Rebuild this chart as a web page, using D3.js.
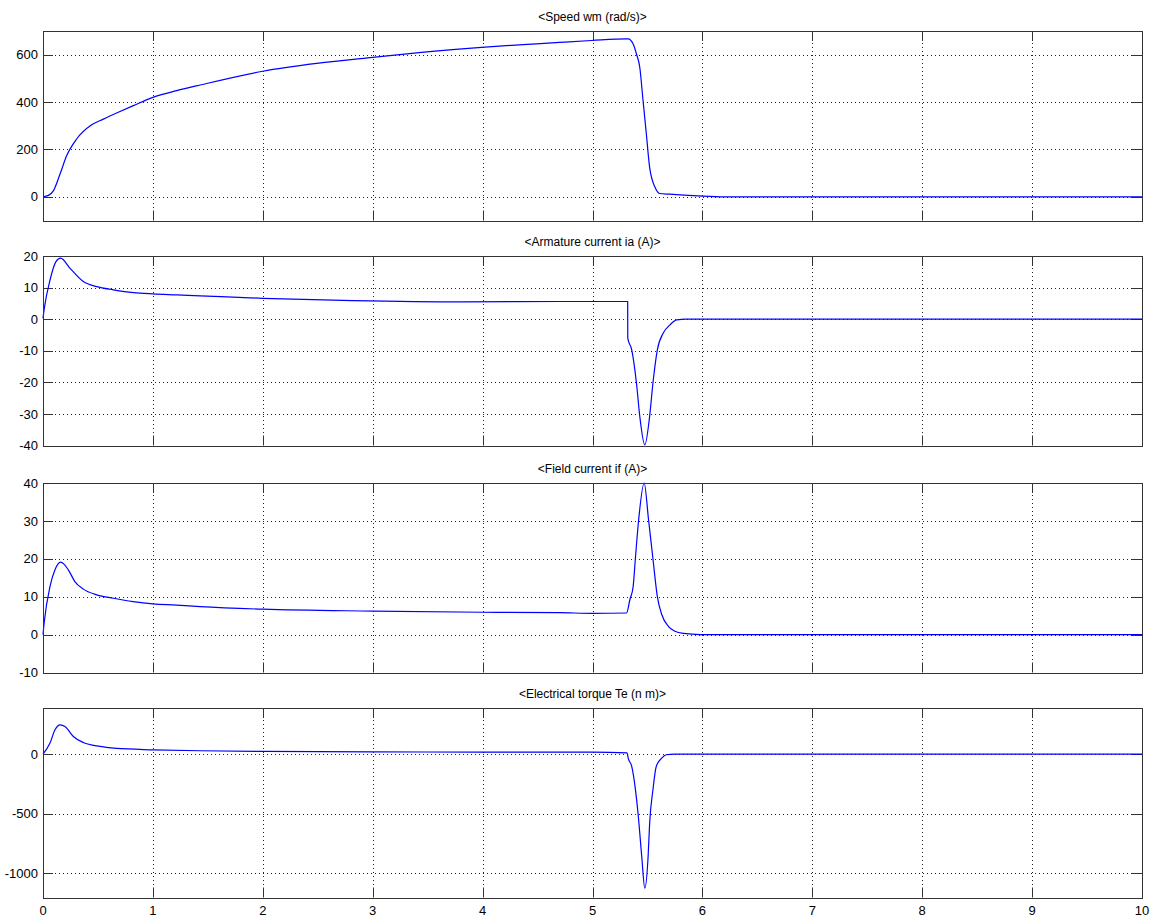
<!DOCTYPE html>
<html><head><meta charset="utf-8">
<script src="https://cdn.jsdelivr.net/npm/d3@7"></script>
<style>
html,body{margin:0;padding:0;background:#fff;}
svg{display:block;}
text{font-family:"Liberation Sans",Arial,sans-serif;fill:#000;}
</style></head>
<body>
<svg id="chart" width="1155" height="918"></svg>
<script>
// ---- data ----
const xTicks = [0,1,2,3,4,5,6,7,8,9,10];

const titles = ["<Speed wm (rad/s)>", "<Armature current ia (A)>", "<Field current if (A)>", "<Electrical torque Te (n m)>"];

const tSpeed = [0,0.05,0.094,0.155,0.215,0.306,0.443,0.549,0.685,0.822,1.0,1.216,1.43,2.0,2.49,3.0,3.49,3.99,4.49,4.7,4.99,5.31,5.325,5.37,5.40,5.43,5.46,5.49,5.52,5.57,5.61,5.70,5.96,6.2,10];
const speed  = [0,6,25,96,173,244,304,328,357,385,420,448,472,530,563,589,612,631,646,652,660,667,667,645,603,547,406,265,124,39,14,11,4,0,0];

const tArm = [0,0.01,0.064,0.118,0.161,0.246,0.367,0.489,0.64,0.822,1.0,1.216,1.43,2.0,2.82,3.82,4.7,5.32,5.321,5.357,5.40,5.43,5.476,5.52,5.55,5.59,5.644,5.705,5.766,5.85,10];
const armCurrent = [0.3,3,12.4,18.2,19.3,16.1,11.9,10.3,9.3,8.4,8.0,7.7,7.4,6.6,5.9,5.5,5.6,5.6,-6,-9.7,-20.2,-30.7,-39.8,-30.7,-20.2,-9.7,-4.4,-1.8,-0.2,0,0];

const tField = [0,0.01,0.064,0.109,0.161,0.23,0.29,0.367,0.49,0.64,0.82,1.0,1.216,1.43,2.0,3.0,4.0,4.7,5.0,5.31,5.34,5.37,5.39,5.42,5.47,5.51,5.55,5.59,5.63,5.69,5.75,5.83,5.98,10];
const fieldCurrent = [0,3,12.7,17.1,19.1,17.1,14.0,12.0,10.5,9.6,8.7,8.1,7.8,7.4,6.7,6.2,5.9,5.8,5.6,5.7,9.2,12.7,20,30.3,40,30.3,20,10,5.3,2.2,0.9,0.3,0,0];

const tTorque = [0,0.064,0.109,0.155,0.2,0.276,0.367,0.52,0.67,1.0,1.43,2.0,3.0,4.0,5.0,5.315,5.325,5.357,5.387,5.417,5.448,5.476,5.506,5.52,5.55,5.58,5.63,5.67,5.75,10];
const torque = [0,92,204,246,232,148,97,64,47,36,28,22,18,17,17,10,-34,-104,-272,-524,-860,-1126,-860,-580,-300,-104,-34,-6,0,0];

const yDomains = [[-100,700],[-40,20],[-10,40],[-1205,387]];
const yTicks = [[0,200,400,600],[-40,-30,-20,-10,0,10,20],[-10,0,10,20,30,40],[-1000,-500,0]];

// ---- layout ----
const svg = d3.select("#chart");
const left = 43, right = 1142;
const tops = [31, 256, 483, 708];
const ph = 189.5;
const tickLen = 10;
const x = d3.scaleLinear().domain([0,10]).range([left, right]);

const seriesT = [tSpeed, tArm, tField, tTorque];
const seriesV = [speed, armCurrent, fieldCurrent, torque];

tops.forEach((top, i) => {
  const bottom = top + ph;
  const y = d3.scaleLinear().domain(yDomains[i]).range([bottom, top]);
  const g = svg.append("g");

  // grid
  const grid = g.append("g").attr("stroke", "#222").attr("stroke-width", 1).attr("stroke-dasharray", "1,3");
  xTicks.slice(1, -1).forEach(t => {
    const px = Math.round(x(t)) + 0.5;
    grid.append("line").attr("x1", px).attr("x2", px).attr("y1", top).attr("y2", bottom);
  });
  yTicks[i].forEach(v => {
    const py = Math.round(y(v)) + 0.5;
    grid.append("line").attr("x1", left).attr("x2", right).attr("y1", py).attr("y2", py);
  });

  // tick marks (inward, all sides)
  const tk = g.append("g").attr("stroke", "#333").attr("stroke-width", 1);
  xTicks.forEach(t => {
    const px = Math.round(x(t)) + 0.5;
    tk.append("line").attr("x1", px).attr("x2", px).attr("y1", top).attr("y2", top + tickLen);
    tk.append("line").attr("x1", px).attr("x2", px).attr("y1", bottom - tickLen).attr("y2", bottom);
  });
  yTicks[i].forEach(v => {
    const py = Math.round(y(v)) + 0.5;
    tk.append("line").attr("x1", left).attr("x2", left + tickLen).attr("y1", py).attr("y2", py);
    tk.append("line").attr("x1", right - tickLen).attr("x2", right).attr("y1", py).attr("y2", py);
  });

  // y tick labels
  yTicks[i].forEach(v => {
    g.append("text").attr("x", left - 5).attr("y", y(v)).attr("dy", "0.36em")
      .attr("text-anchor", "end").attr("font-size", "13px").text(v);
  });

  // title
  g.append("text").attr("x", (left + right) / 2).attr("y", top - 10)
    .attr("text-anchor", "middle").attr("font-size", "12px").text(titles[i]);

  // data line
  const data = seriesT[i].map((t, k) => [t, seriesV[i][k]]);
  const line = d3.line().x(d => x(d[0])).y(d => y(d[1])).curve(d3.curveMonotoneX);
  g.append("path").datum(data).attr("d", line)
    .attr("fill", "none").attr("stroke", "#0000ff").attr("stroke-width", 1.2)
    .attr("stroke-linejoin", "round");

  // box
  g.append("rect").attr("x", left + 0.5).attr("y", Math.round(top) + 0.5)
    .attr("width", right - left).attr("height", Math.round(ph))
    .attr("fill", "none").attr("stroke", "#333").attr("stroke-width", 1);

  // x tick labels on bottom panel
  if (i === tops.length - 1) {
    xTicks.forEach(t => {
      g.append("text").attr("x", x(t)).attr("y", bottom + 17)
        .attr("text-anchor", "middle").attr("font-size", "13px").text(t);
    });
  }
});
</script>
</body></html>
